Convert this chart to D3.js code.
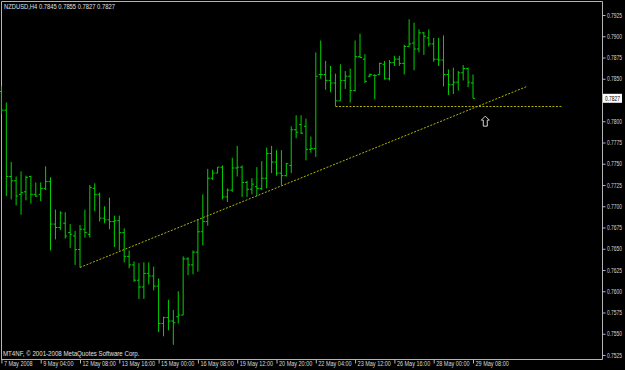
<!DOCTYPE html>
<html>
<head>
<meta charset="utf-8">
<script src="https://cdn.jsdelivr.net/npm/d3@7"></script>
<style>
  html, body { margin: 0; padding: 0; background: #000; }
  svg { display: block; }
</style>
</head>
<body>
<script>
'use strict';

// NZDUSD H4 bars
let opens = [0.7835,0.7813,0.7735,0.7730,0.7714,0.7717,0.7735,0.7714,0.7714,0.7721,
  0.7729,0.7679,0.7675,0.7680,0.7669,0.7665,0.7649,0.7673,0.7667,0.7721,
  0.7714,0.7686,0.7684,0.7682,0.7683,0.7669,0.7641,0.7631,0.7613,0.7605,
  0.7621,0.7618,0.7606,0.7562,0.7569,0.7565,0.7570,0.7572,0.7638,0.7631,
  0.7646,0.7670,0.7682,0.7733,0.7739,0.7746,0.7711,0.7719,0.7745,0.7746,
  0.7728,0.7720,0.7723,0.7721,0.7733,0.7762,0.7752,0.7739,0.7736,0.7748,
  0.7790,0.7796,0.7794,0.7767,0.7768,0.7855,0.7855,0.7848,0.7845,0.7824,
  0.7848,0.7853,0.7836,0.7876,0.7873,0.7853,0.7854,0.7855,0.7867,0.7850,
  0.7869,0.7873,0.7868,0.7888,0.7892,0.7885,0.7904,0.7898,0.7891,0.7873,
  0.7872,0.7855,0.7843,0.7846,0.7857,0.7862,0.7845];
let highs = [0.7841,0.7822,0.7752,0.7735,0.7741,0.7736,0.7736,0.7728,0.7728,0.7747,
  0.7734,0.7696,0.7694,0.7693,0.7679,0.7671,0.7678,0.7696,0.7725,0.7727,
  0.7716,0.7700,0.7710,0.7689,0.7689,0.7674,0.7648,0.7635,0.7633,0.7634,
  0.7634,0.7629,0.7615,0.7570,0.7590,0.7578,0.7600,0.7641,0.7640,0.7648,
  0.7685,0.7714,0.7744,0.7743,0.7746,0.7748,0.7721,0.7757,0.7771,0.7748,
  0.7730,0.7733,0.7746,0.7753,0.7769,0.7771,0.7766,0.7766,0.7751,0.7794,
  0.7807,0.7807,0.7803,0.7782,0.7881,0.7895,0.7871,0.7865,0.7856,0.7867,
  0.7859,0.7862,0.7895,0.7903,0.7879,0.7856,0.7855,0.7869,0.7871,0.7872,
  0.7877,0.7877,0.7890,0.7920,0.7916,0.7908,0.7905,0.7908,0.7898,0.7898,
  0.7901,0.7861,0.7863,0.7859,0.7866,0.7863,0.7855];
let lows = [0.7809,0.7712,0.7708,0.7701,0.7690,0.7707,0.7703,0.7711,0.7706,0.7719,
  0.7648,0.7661,0.7672,0.7662,0.7651,0.7631,0.7628,0.7663,0.7663,0.7694,
  0.7682,0.7680,0.7673,0.7652,0.7648,0.7634,0.7627,0.7611,0.7591,0.7591,
  0.7608,0.7601,0.7552,0.7547,0.7554,0.7537,0.7562,0.7572,0.7619,0.7620,
  0.7623,0.7654,0.7677,0.7731,0.7739,0.7708,0.7705,0.7717,0.7735,0.7711,
  0.7711,0.7714,0.7712,0.7719,0.7721,0.7739,0.7736,0.7725,0.7735,0.7739,
  0.7780,0.7785,0.7754,0.7763,0.7758,0.7850,0.7837,0.7834,0.7818,0.7824,
  0.7838,0.7822,0.7835,0.7875,0.7845,0.7852,0.7826,0.7855,0.7849,0.7848,
  0.7865,0.7865,0.7855,0.7888,0.7860,0.7881,0.7878,0.7888,0.7870,0.7865,
  0.7841,0.7831,0.7832,0.7836,0.7848,0.7840,0.7827];
let closes = [0.7813,0.7735,0.7730,0.7712,0.7716,0.7734,0.7714,0.7712,0.7721,0.7729,
  0.7679,0.7675,0.7692,0.7665,0.7667,0.7649,0.7673,0.7669,0.7722,0.7714,
  0.7686,0.7684,0.7682,0.7683,0.7669,0.7641,0.7631,0.7613,0.7605,0.7621,
  0.7618,0.7606,0.7562,0.7569,0.7565,0.7563,0.7572,0.7638,0.7631,0.7646,
  0.7670,0.7682,0.7733,0.7739,0.7746,0.7711,0.7719,0.7745,0.7746,0.7728,
  0.7720,0.7726,0.7721,0.7733,0.7762,0.7752,0.7739,0.7736,0.7750,0.7790,
  0.7787,0.7786,0.7767,0.7768,0.7853,0.7855,0.7848,0.7845,0.7824,0.7848,
  0.7853,0.7836,0.7876,0.7875,0.7847,0.7855,0.7854,0.7868,0.7850,0.7869,
  0.7873,0.7868,0.7888,0.7891,0.7885,0.7904,0.7900,0.7891,0.7873,0.7872,
  0.7855,0.7843,0.7846,0.7857,0.7862,0.7846,0.7827];

// time axis labels, one every 8 bars
let timeLabels = ["7 May 2008","9 May 04:00","12 May 08:00","13 May 16:00","15 May 00:00",
  "16 May 08:00","19 May 12:00","20 May 20:00","22 May 04:00","23 May 12:00",
  "26 May 16:00","28 May 00:00","29 May 08:00"];
let priceTicks = [0.7925,0.7900,0.7875,0.7850,0.7800,0.7775,0.7750,0.7725,0.7700,
  0.7675,0.7650,0.7625,0.7600,0.7575,0.7550,0.7525];
let lastPrice = 0.7827;

// user drawn objects
let trendBars = [16, 107];
let trendPrices = [0.7628, 0.7841];
let levelBars = [68, 114];
let levelPrice = 0.7818;
let arrowBar = 98.5;
let arrowPrice = 0.7806;

let svg = d3.select('body').append('svg')
  .attr('width', 625)
  .attr('height', 370)
  .style('background', '#000');

let xScale = d3.scaleLinear().domain([0, 96]).range([1.4, 473]);
let yScale = d3.scaleLinear().domain([0.7525, 0.7925]).range([355, 15]);

let font = "'Liberation Sans', Arial, sans-serif";
let fontSize = '6.4px';
let frameColor = '#b4b4b4';
let barColor = '#00d200';

// the terminal font is narrower than anything installed: squeeze texts
function squeeze(sel, f) {
  sel.each(function() {
    let w = this.getComputedTextLength();
    d3.select(this)
      .attr('textLength', w * f)
      .attr('lengthAdjust', 'spacingAndGlyphs');
  });
}

// frame
svg.append('path')
  .attr('d', 'M1.5,360 L1.5,1.5 L602.5,1.5 L602.5,359.5 L1.5,359.5')
  .attr('fill', 'none')
  .attr('stroke', frameColor)
  .attr('stroke-width', 1);

// bars
let bars = svg.append('g');
opens.forEach((o, i) => {
  let x = xScale(i);
  bars.append('line')
    .attr('x1', x).attr('x2', x)
    .attr('y1', yScale(highs[i])).attr('y2', yScale(lows[i]))
    .attr('stroke', barColor).attr('stroke-width', 1);
  bars.append('line')
    .attr('x1', x - 2).attr('x2', x)
    .attr('y1', yScale(o)).attr('y2', yScale(o))
    .attr('stroke', barColor).attr('stroke-width', 1);
  bars.append('line')
    .attr('x1', x).attr('x2', x + 2)
    .attr('y1', yScale(closes[i])).attr('y2', yScale(closes[i]))
    .attr('stroke', barColor).attr('stroke-width', 1);
});

// trend line and horizontal level (dotted)
svg.append('line')
  .attr('x1', xScale(trendBars[0])).attr('y1', yScale(trendPrices[0]))
  .attr('x2', xScale(trendBars[1])).attr('y2', yScale(trendPrices[1]))
  .attr('stroke', '#b4b400').attr('stroke-width', 1)
  .attr('stroke-dasharray', '2,1.5');
svg.append('line')
  .attr('x1', xScale(levelBars[0])).attr('y1', Math.round(yScale(levelPrice)) + 0.5)
  .attr('x2', xScale(levelBars[1])).attr('y2', Math.round(yScale(levelPrice)) + 0.5)
  .attr('stroke', '#b4b400').attr('stroke-width', 1)
  .attr('stroke-dasharray', '2,1.5');

// up arrow marker
let ax = xScale(arrowBar), ay = yScale(arrowPrice);
svg.append('path')
  .attr('d', `M${ax},${ay} L${ax + 4},${ay + 4} L${ax + 2},${ay + 4} L${ax + 2},${ay + 10} L${ax - 2},${ay + 10} L${ax - 2},${ay + 4} L${ax - 4},${ay + 4} Z`)
  .attr('fill', 'none')
  .attr('stroke', '#d0d0d0')
  .attr('stroke-width', 1);

// price axis on the right
let yAxis = d3.axisRight(yScale)
  .tickValues(priceTicks)
  .tickSize(3)
  .tickPadding(1.5)
  .tickFormat(d3.format('.4f'));
let yg = svg.append('g')
  .attr('transform', 'translate(602.5,0)')
  .call(yAxis);
yg.select('.domain').remove();
yg.selectAll('line').attr('stroke', frameColor);
yg.selectAll('text')
  .attr('fill', '#d8d8d8')
  .style('font-family', font)
  .style('font-size', fontSize)
  .call(squeeze, 0.77);

// last price box
let ly = yScale(lastPrice);
svg.append('rect')
  .attr('x', 603).attr('y', ly - 4.5)
  .attr('width', 19).attr('height', 9)
  .attr('fill', '#fff');
svg.append('text')
  .attr('x', 605).attr('y', ly + 2.2)
  .attr('fill', '#000')
  .style('font-family', font)
  .style('font-size', fontSize)
  .text(d3.format('.4f')(lastPrice))
  .call(squeeze, 0.77);

// time axis at the bottom
let xAxis = d3.axisBottom(xScale)
  .tickValues(timeLabels.map((d, i) => i * 8))
  .tickSize(4)
  .tickFormat((d, i) => timeLabels[i]);
let xg = svg.append('g')
  .attr('transform', 'translate(0,359.5)')
  .call(xAxis);
xg.select('.domain').remove();
xg.selectAll('line').attr('stroke', frameColor);
xg.selectAll('text')
  .attr('fill', '#d8d8d8')
  .attr('text-anchor', 'start')
  .attr('x', 2)
  .attr('y', 2)
  .style('font-family', font)
  .style('font-size', fontSize)
  .call(squeeze, 0.86);

// chart captions
svg.append('text')
  .attr('x', 4).attr('y', 9)
  .attr('fill', '#e0e0e0')
  .style('font-family', font)
  .style('font-size', fontSize)
  .text('NZDUSD,H4  ' + [opens[96], highs[96], lows[96], closes[96]].map(d3.format('.4f')).join(' '))
  .call(squeeze, 0.91);

svg.append('text')
  .attr('x', 3).attr('y', 356)
  .attr('fill', '#e0e0e0')
  .style('font-family', font)
  .style('font-size', fontSize)
  .text('MT4NF, \u00a9 2001-2008 MetaQuotes Software Corp.')
  .call(squeeze, 0.96);
</script>
</body>
</html>
